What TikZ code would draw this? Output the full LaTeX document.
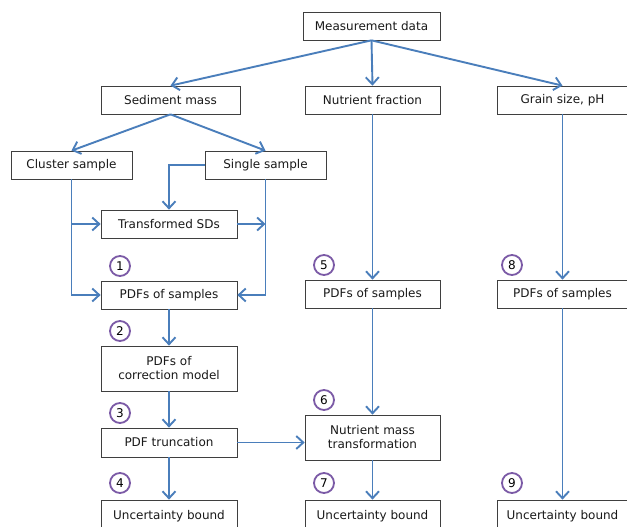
\documentclass[tikz,border=0pt]{standalone}
\usepackage{fontspec}
\setmainfont{DejaVu Sans}
\usetikzlibrary{arrows.meta}
\definecolor{linkblue}{HTML}{4A7EBB}
\definecolor{numpurple}{HTML}{7B5AA6}
\definecolor{boxgray}{HTML}{3F3F3F}
\tikzset{
  box/.style={draw=boxgray, line width=0.7pt, fill=white, inner sep=1pt, align=center,
    font=\fontsize{12}{14}\selectfont, text=black!90},
  link/.style={draw=linkblue, line width=1.9pt, -{Straight Barb[length=7pt,width=13pt]}},
  num/.style={draw=numpurple, line width=1.8pt, ellipse-ish/.style={}, circle, minimum size=20pt, inner sep=0pt,
    font=\fontsize{12}{14}\selectfont}
}
\begin{document}
\begin{tikzpicture}[x=1pt,y=-1pt]
\useasboundingbox (0,0) rectangle (627,527);
\clip (0,0) rectangle (627,527);
\fill[white] (0,0) rectangle (627,527);
% boxes
\node[box, minimum width=137pt, minimum height=28pt] (md) at (371.5,26) {Measurement data};
\node[box, minimum width=139pt, minimum height=28pt] (sm) at (170.5,100) {Sediment mass};
\node[box, minimum width=135pt, minimum height=28pt] (nf) at (372.5,100) {Nutrient fraction};
\node[box, minimum width=131pt, minimum height=28pt] (gs) at (562.5,100) {Grain size, pH};
\node[box, minimum width=121pt, minimum height=28pt] (cs) at (71.5,165) {Cluster sample};
\node[box, minimum width=121pt, minimum height=28pt] (ss) at (265.5,165) {Single sample};
\node[box, minimum width=136pt, minimum height=28pt] (tsd) at (169,224) {Transformed SDs};
\node[box, minimum width=136pt, minimum height=28pt] (pdfL) at (169,295) {PDFs of samples};
\node[box, minimum width=135pt, minimum height=28pt] (pdfM) at (372.5,294) {PDFs of samples};
\node[box, minimum width=131pt, minimum height=28pt] (pdfR) at (562.5,294) {PDFs of samples};
\node[box, minimum width=136pt, minimum height=45pt] (corr) at (169,368.5) {PDFs of\\correction model};
\node[box, minimum width=136pt, minimum height=29pt] (trunc) at (169,442.5) {PDF truncation};
\node[box, minimum width=135pt, minimum height=45pt] (nmt) at (372.5,437.5) {Nutrient mass\\transformation};
\node[box, minimum width=136pt, minimum height=32pt] (ubL) at (169,516) {Uncertainty bound};
\node[box, minimum width=135pt, minimum height=32pt] (ubM) at (372.5,516) {Uncertainty bound};
\node[box, minimum width=131pt, minimum height=32pt] (ubR) at (562.5,516) {Uncertainty bound};
% numbers
\node[num] (n1) at (120,266) {1};
\node[num] (n2) at (120,331) {2};
\node[num] (n3) at (120,413) {3};
\node[num] (n4) at (120,483) {4};
\node[num] (n5) at (324,265) {5};
\node[num] (n6) at (324,400) {6};
\node[num] (n7) at (324,483) {7};
\node[num] (n8) at (512,265) {8};
\node[num] (n9) at (512,483) {9};
% connectors
\draw[link] (md.south) -- (sm.north);
\draw[link] (md.south) -- (nf.north);
\draw[link] (md.south) -- (gs.north);
\draw[link] (sm.south) -- (cs.north);
\draw[link] (sm.south) -- (ss.north);
\draw[link] (cs.south) |- (pdfL.west);
\draw[link] (cs.south |- tsd.west) -- (tsd.west);
\draw[link] (ss.west) -| (tsd.north);
\draw[link] (ss.south) |- (pdfL.east);
\draw[link] (tsd.east) -- (ss.south |- tsd.east);
\draw[link] (pdfL.south) -- (corr.north);
\draw[link] (corr.south) -- (trunc.north);
\draw[link] (trunc.south) -- (ubL.north);
\draw[link] (trunc.east) -- (trunc.east -| nmt.west);
\draw[link] (nf.south) -- (pdfM.north);
\draw[link] (pdfM.south) -- (nmt.north);
\draw[link] (nmt.south) -- (ubM.north);
\draw[link] (gs.south) -- (pdfR.north);
\draw[link] (pdfR.south) -- (ubR.north);
\end{tikzpicture}
\end{document}
